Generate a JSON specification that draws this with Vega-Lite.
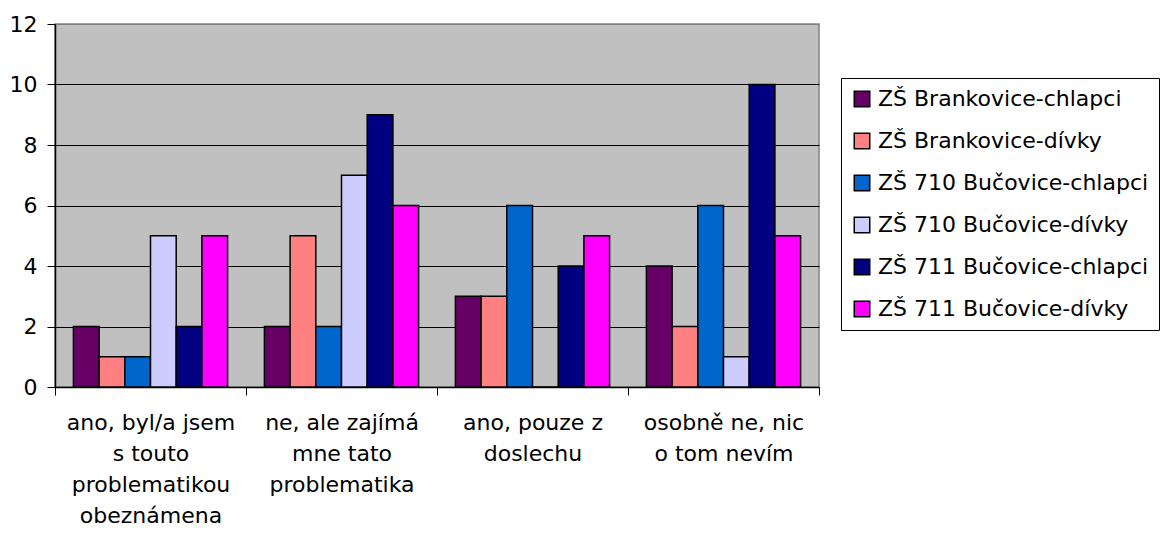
{
  "$schema": "https://vega.github.io/schema/vega-lite/v6.json",
  "width": 764,
  "height": 363,
  "autosize": {"type": "none"},
  "padding": {"left": 55, "top": 24, "right": 341, "bottom": 148},
  "background": "white",
  "config": {
    "font": "DejaVu Sans",
    "view": {"fill": "#C0C0C0", "stroke": "#808080", "strokeWidth": 1.5}
  },
  "data": {
    "values": [
      {"q": "ano, byl/a jsem|s touto|problematikou|obeznámena", "s": "ZŠ Brankovice-chlapci", "v": 2},
      {"q": "ano, byl/a jsem|s touto|problematikou|obeznámena", "s": "ZŠ Brankovice-dívky", "v": 1},
      {"q": "ano, byl/a jsem|s touto|problematikou|obeznámena", "s": "ZŠ 710 Bučovice-chlapci", "v": 1},
      {"q": "ano, byl/a jsem|s touto|problematikou|obeznámena", "s": "ZŠ 710 Bučovice-dívky", "v": 5},
      {"q": "ano, byl/a jsem|s touto|problematikou|obeznámena", "s": "ZŠ 711 Bučovice-chlapci", "v": 2},
      {"q": "ano, byl/a jsem|s touto|problematikou|obeznámena", "s": "ZŠ 711 Bučovice-dívky", "v": 5},
      {"q": "ne, ale zajímá|mne tato|problematika", "s": "ZŠ Brankovice-chlapci", "v": 2},
      {"q": "ne, ale zajímá|mne tato|problematika", "s": "ZŠ Brankovice-dívky", "v": 5},
      {"q": "ne, ale zajímá|mne tato|problematika", "s": "ZŠ 710 Bučovice-chlapci", "v": 2},
      {"q": "ne, ale zajímá|mne tato|problematika", "s": "ZŠ 710 Bučovice-dívky", "v": 7},
      {"q": "ne, ale zajímá|mne tato|problematika", "s": "ZŠ 711 Bučovice-chlapci", "v": 9},
      {"q": "ne, ale zajímá|mne tato|problematika", "s": "ZŠ 711 Bučovice-dívky", "v": 6},
      {"q": "ano, pouze z|doslechu", "s": "ZŠ Brankovice-chlapci", "v": 3},
      {"q": "ano, pouze z|doslechu", "s": "ZŠ Brankovice-dívky", "v": 3},
      {"q": "ano, pouze z|doslechu", "s": "ZŠ 710 Bučovice-chlapci", "v": 6},
      {"q": "ano, pouze z|doslechu", "s": "ZŠ 710 Bučovice-dívky", "v": 0},
      {"q": "ano, pouze z|doslechu", "s": "ZŠ 711 Bučovice-chlapci", "v": 4},
      {"q": "ano, pouze z|doslechu", "s": "ZŠ 711 Bučovice-dívky", "v": 5},
      {"q": "osobně ne, nic|o tom nevím", "s": "ZŠ Brankovice-chlapci", "v": 4},
      {"q": "osobně ne, nic|o tom nevím", "s": "ZŠ Brankovice-dívky", "v": 2},
      {"q": "osobně ne, nic|o tom nevím", "s": "ZŠ 710 Bučovice-chlapci", "v": 6},
      {"q": "osobně ne, nic|o tom nevím", "s": "ZŠ 710 Bučovice-dívky", "v": 1},
      {"q": "osobně ne, nic|o tom nevím", "s": "ZŠ 711 Bučovice-chlapci", "v": 10},
      {"q": "osobně ne, nic|o tom nevím", "s": "ZŠ 711 Bučovice-dívky", "v": 5}
    ]
  },
  "mark": {"type": "bar", "stroke": "black", "strokeWidth": 1.5},
  "encoding": {
    "x": {
      "field": "q", "type": "nominal", "sort": null,
      "scale": {"paddingInner": 0, "paddingOuter": 0},
      "axis": {
        "title": null, "labelAngle": 0,
        "labelExpr": "split(datum.label, '|')",
        "labelFontSize": 22, "labelLineHeight": 31, "labelColor": "black",
        "labelPadding": 17, "labelLimit": 300,
        "tickBand": "extent", "tickColor": "black", "tickSize": 8, "tickWidth": 1,
        "domainColor": "black", "domainWidth": 1.5
      }
    },
    "xOffset": {"field": "s", "type": "nominal", "sort": null, "scale": {"paddingInner": 0, "paddingOuter": 0.716}},
    "y": {
      "field": "v", "type": "quantitative",
      "scale": {"domain": [0, 12], "nice": false},
      "axis": {
        "title": null, "values": [0, 2, 4, 6, 8, 10, 12],
        "labelFontSize": 22, "labelColor": "black", "labelPadding": 10,
        "tickColor": "black", "tickSize": 8, "tickWidth": 1,
        "domainColor": "black", "domainWidth": 1.5,
        "grid": true,
        "gridColor": {"condition": {"test": "datum.value == 12", "value": "#808080"}, "value": "black"},
        "gridWidth": 1
      }
    },
    "color": {
      "field": "s", "type": "nominal", "sort": null,
      "scale": {
        "domain": ["ZŠ Brankovice-chlapci", "ZŠ Brankovice-dívky", "ZŠ 710 Bučovice-chlapci", "ZŠ 710 Bučovice-dívky", "ZŠ 711 Bučovice-chlapci", "ZŠ 711 Bučovice-dívky"],
        "range": ["#660066", "#FF8080", "#0066CC", "#CCCCFF", "#000080", "#FF00FF"]
      },
      "legend": {
        "title": null, "orient": "none", "legendX": 786, "legendY": 54,
        "fillColor": "white", "strokeColor": "black", "padding": 10,
        "symbolType": "square", "symbolSize": 240, "symbolStrokeColor": "black", "symbolStrokeWidth": 1.5,
        "labelFontSize": 22, "labelColor": "black", "labelOffset": 5, "labelLimit": 400,
        "rowPadding": 20
      }
    }
  }
}
